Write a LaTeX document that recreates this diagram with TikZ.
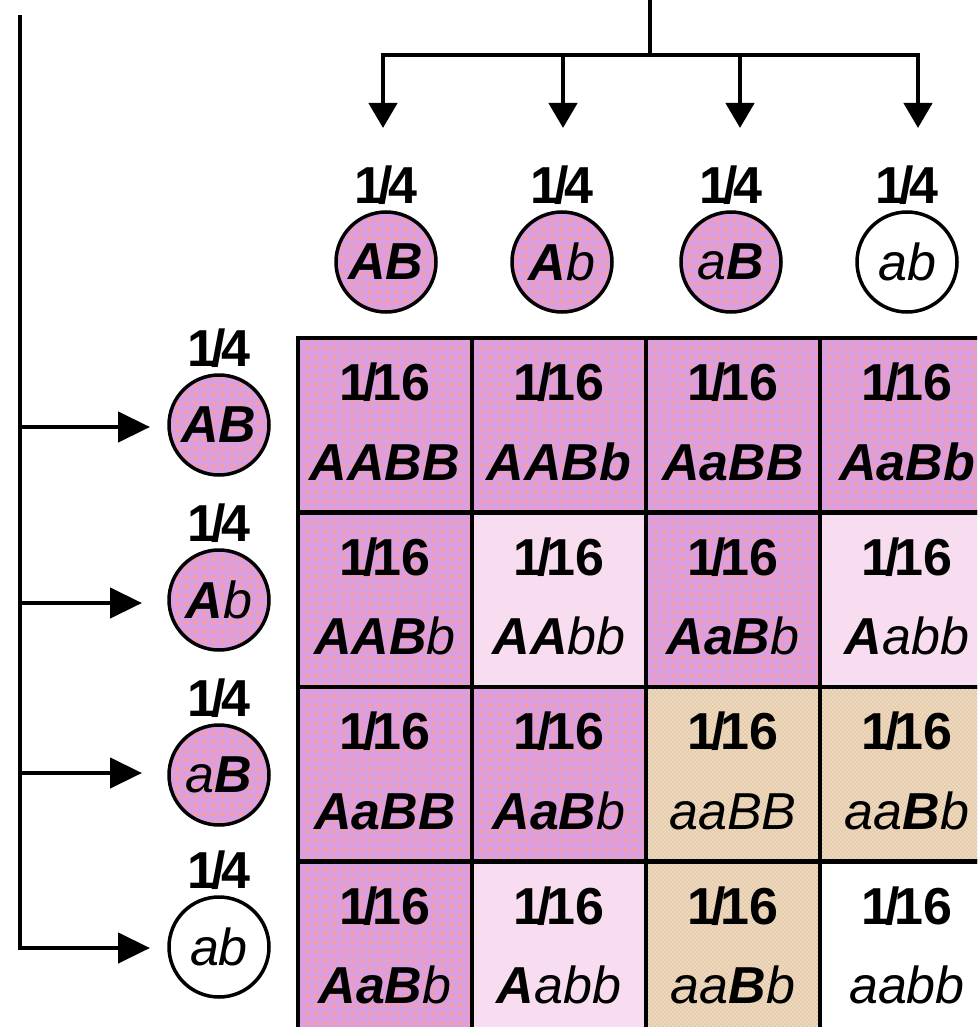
\documentclass[tikz,border=0pt]{standalone}
\usepackage{fontspec}
\setmainfont{Liberation Sans}
\usetikzlibrary{arrows.meta,patterns.meta}
\definecolor{plum}{HTML}{DB9FDD}
\definecolor{salmon}{HTML}{FF9C98}
\definecolor{lightpink}{HTML}{F7DDEF}
\definecolor{tanbase}{HTML}{FCD2CC}
\definecolor{khaki}{HTML}{D9D2A2}
\newcommand\myfont{\fontsize{52}{60}\selectfont}
\newcommand\fr[2]{\textbf{#1\kern-5pt/\kern-5pt#2}}
\tikzdeclarepattern{
  name=pdots, type=uncolored,
  bounding box={(0pt,0pt) and (8.7pt,8.7pt)},
  tile size={(8.7pt,8.7pt)},
  code={\pgfpathrectangle{\pgfpoint{2pt}{2pt}}{\pgfpoint{3.4pt}{3.4pt}}\pgfusepath{fill}}
}
\tikzdeclarepattern{
  name=tchk, type=uncolored,
  bounding box={(0pt,0pt) and (4.4pt,4.4pt)},
  tile size={(4.4pt,4.4pt)},
  code={\pgfpathrectangle{\pgfpointorigin}{\pgfpoint{2.2pt}{2.2pt}}\pgfpathrectangle{\pgfpoint{2.2pt}{2.2pt}}{\pgfpoint{2.2pt}{2.2pt}}\pgfusepath{fill}}
}
\tikzset{
  ln/.style={line width=4.5pt},
  arrtop/.style={ln,-{Triangle[length=25pt,width=28pt]}},
  arrleft/.style={ln,-{Triangle[length=32pt,width=30pt]}},
  gam/.style={circle, draw, line width=3.5pt, minimum size=100pt, inner sep=0pt, font=\myfont\itshape},
  dom/.style={preaction={fill=plum}, pattern=pdots, pattern color=salmon},
  lite/.style={fill=lightpink},
  tan/.style={preaction={fill=tanbase}, pattern=tchk, pattern color=khaki},
  wht/.style={fill=white},
  cell/.style={rectangle, draw, line width=4.5pt, minimum width=174pt, minimum height=174.5pt, inner sep=0pt, outer sep=0pt},
  prob/.style={anchor=base, font=\myfont, inner sep=0pt},
  geno/.style={anchor=base, font=\myfont\itshape, inner sep=0pt},
}
\begin{document}
\begin{tikzpicture}[x=1pt,y=-1pt]
\useasboundingbox (0,0) rectangle (977,1027);
\clip (0,0) rectangle (977,1027);

% top tree
\coordinate (top) at (650,0);
\coordinate (hub) at (650,55);
\coordinate (a1) at (383,128);
\coordinate (a2) at (563,128);
\coordinate (a3) at (740,128);
\coordinate (a4) at (918,128);
\draw[ln] (top) -- (hub);
\foreach \i in {1,...,4} \draw[arrtop] (hub) -| (a\i);

% top gametes
\node[gam,dom] (t1) at (386,262) {\textbf{AB}};
\node[gam,dom] (t2) at (562,262) {\textbf{A}b};
\node[gam,dom] (t3) at (731,262) {a\textbf{B}};
\node[gam,wht] (t4) at (907,262) {ab};
\foreach \i/\x in {1/386,2/562,3/731,4/907}
  \node[prob] (tp\i) at (\x,203) {\fr{1}{4}};

% left tree
\coordinate (lefttop) at (20,15);
\coordinate (b1) at (150,427);
\coordinate (b2) at (142,603);
\coordinate (b3) at (142,773);
\coordinate (b4) at (150,948);
\draw[arrleft] (lefttop) |- (b4);
\foreach \i in {1,2,3} \draw[arrleft] (b\i -| lefttop) -- (b\i);

% left gametes
\node[gam,dom] (l1) at (219,425) {\textbf{AB}};
\node[gam,dom] (l2) at (219,600) {\textbf{A}b};
\node[gam,dom] (l3) at (219,775) {a\textbf{B}};
\node[gam,wht] (l4) at (219,947) {ab};
\foreach \i/\y in {1/425,2/600,3/775,4/947}
  \node[prob] (lp\i) at (219,\y-59) {\fr{1}{4}};

% Punnett square
\foreach \r/\y in {1/425.25,2/599.75,3/774.25,4/948.75}{
  \foreach \c/\x in {1/385,2/559,3/733,4/907}{
    \coordinate (cc\r\c) at (\x,\y);
  }
}
\newcommand\pcell[3]{%
  \node[cell,#2] (c#1) at (cc#1) {};
  \node[prob] (p#1) at ([yshift=-62.5pt]c#1.north) {\fr{1}{16}};
  \node[geno] (g#1) at ([yshift=-142pt]c#1.north) {#3};
}
\pcell{11}{dom}{\textbf{AABB}}
\pcell{12}{dom}{\textbf{AABb}}
\pcell{13}{dom}{\textbf{AaBB}}
\pcell{14}{dom}{\textbf{AaBb}}
\pcell{21}{dom}{\textbf{AAB}b}
\pcell{22}{lite}{\textbf{AA}bb}
\pcell{23}{dom}{\textbf{AaB}b}
\pcell{24}{lite}{\textbf{A}abb}
\pcell{31}{dom}{\textbf{AaBB}}
\pcell{32}{dom}{\textbf{AaB}b}
\pcell{33}{tan}{aaBB}
\pcell{34}{tan}{aa\textbf{B}b}
\pcell{41}{dom}{\textbf{AaB}b}
\pcell{42}{lite}{\textbf{A}abb}
\pcell{43}{tan}{aa\textbf{B}b}
\pcell{44}{wht}{aabb}
\end{tikzpicture}
\end{document}
